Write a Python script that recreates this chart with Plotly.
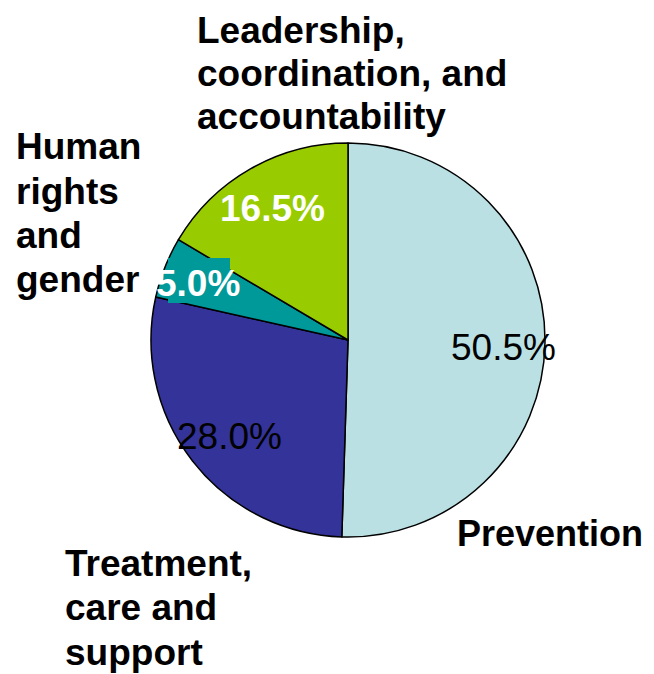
import plotly.graph_objects as go

W, H = 654, 674
OFF = 8  # page body margin in the browser

categories = ["Prevention", "Treatment, care and support", "Human rights and gender",
              "Leadership, coordination, and accountability"]
values = [50.5, 28.0, 5.0, 16.5]
colors = ["#BBE0E3", "#333399", "#009999", "#99CC00"]
pct_labels = ["50.5%", "28.0%", "5.0%", "16.5%"]

# category label lines as drawn around the pie
label_lines = [
    ["Prevention"],
    ["Treatment,", "care and", "support"],
    ["Human", "rights", "and", "gender"],
    ["Leadership,", "coordination, and", "accountability"],
]


def px_x(x):
    return (x - OFF) / W


def px_y(y):
    return 1 - (y - OFF) / H


fig = go.Figure(go.Pie(
    labels=categories,
    values=values,
    sort=False,
    direction="clockwise",
    rotation=0,
    marker=dict(colors=colors, line=dict(color="black", width=1.5)),
    textinfo="none",
    hoverinfo="label+percent",
    showlegend=False,
    domain=dict(x=[px_x(151), px_x(545)], y=[px_y(537), px_y(143)]),
))

FONT = "Arial, Liberation Sans, sans-serif"
annotations = []

# outside category labels: left x, first line centre y, line step, font size
label_pos = [(455, 533), (63, 563), (14, 147), (195, 30)]
steps = [0, 44.5, 44.3, 43.5]
sizes = [36, 37, 37, 37]
for lines, (lx, ly), step, fs in zip(label_lines, label_pos, steps, sizes):
    for i, line in enumerate(lines):
        annotations.append(dict(
            x=px_x(lx), y=px_y(ly + i * step), xref="paper", yref="paper",
            text="<b>%s</b>" % line, showarrow=False,
            xanchor="left", yanchor="middle",
            font=dict(family=FONT, size=fs, color="black"),
        ))

# percentage labels inside slices
pct_pos = [(503, 347), (229, 436), (198, 283), (272, 208)]
pct_bold = [False, False, True, True]
pct_color = ["black", "black", "white", "white"]
for t, (cx, cy), b, c in zip(pct_labels, pct_pos, pct_bold, pct_color):
    annotations.append(dict(
        x=px_x(cx), y=px_y(cy), xref="paper", yref="paper",
        text="<b>%s</b>" % t if b else t, showarrow=False,
        xanchor="center", yanchor="middle",
        font=dict(family=FONT, size=37, color=c),
    ))

fig.update_layout(
    width=W, height=H,
    margin=dict(l=0, r=0, t=0, b=0),
    paper_bgcolor="white",
    plot_bgcolor="white",
    annotations=annotations,
    shapes=[dict(
        type="rect", xref="paper", yref="paper", layer="above",
        x0=px_x(168), x1=px_x(230), y0=px_y(303), y1=px_y(258),
        fillcolor="#009999", line=dict(width=0),
    )],
)

fig.write_html("out.html")
